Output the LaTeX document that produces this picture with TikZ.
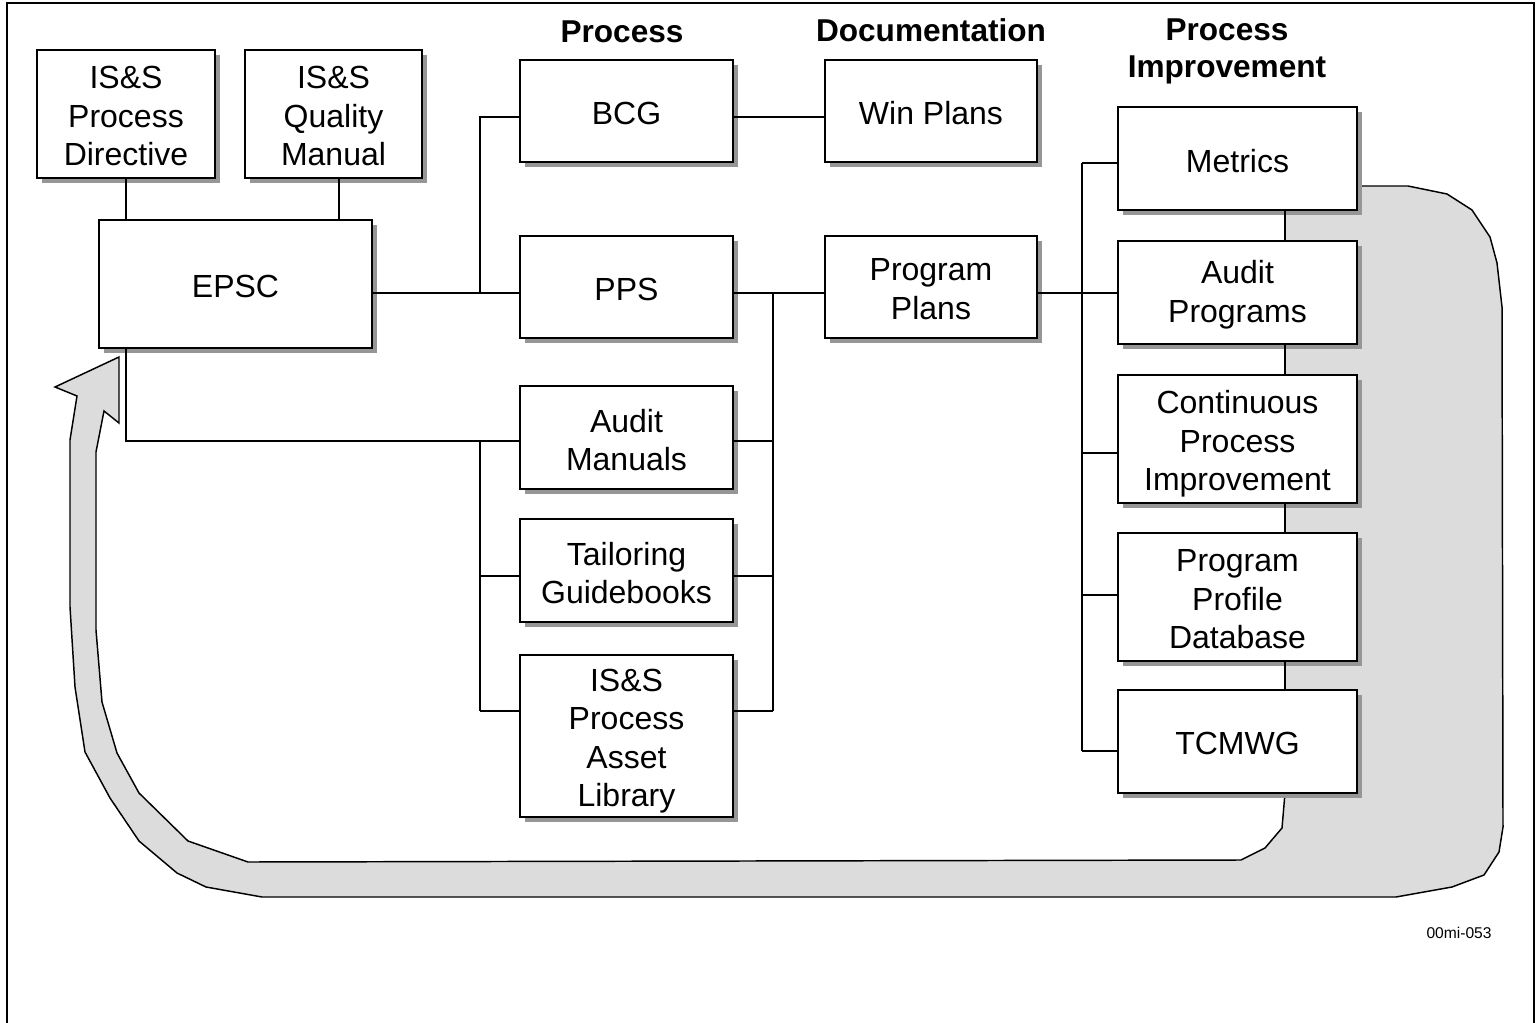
\documentclass[tikz,border=0pt]{standalone}
\usepackage{fontspec}
\setmainfont{Liberation Sans}
\usetikzlibrary{shadows}
\definecolor{bandgray}{HTML}{DCDCDC}
\definecolor{shadowgray}{HTML}{969696}
\newcommand{\boxfnt}{\fontsize{24pt}{28.9pt}\selectfont}
\newcommand{\headfnt}{\fontsize{23.7pt}{27.75pt}\selectfont\bfseries}
\begin{document}
\begin{tikzpicture}[x=0.75pt,y=-0.75pt,
  bx/.style 2 args={draw, line width=1.2pt, fill=white, inner sep=0pt,
    minimum width=#1*0.75pt, minimum height=#2*0.75pt,
    drop shadow={shadow xshift=3.9pt, shadow yshift=-3.9pt, fill=shadowgray, opacity=1}},
  lbl/.style={font=\boxfnt, align=center, inner sep=0pt, yshift=-1.8pt},
  txt/.style={label={[lbl]center:{#1}}},
  txtd/.style={label={[lbl,yshift=-2pt]center:{#1}}},
  conn/.style={line width=0.9pt},
  band/.style={draw, line width=1.1pt, fill=bandgray, line join=miter},
  head/.style={font=\headfnt, align=center, inner sep=0pt}]
\useasboundingbox (0,0) rectangle (1538,1023);
% frame
\draw[line width=1.5pt] (7,1023) -- (7,3) -- (1534,3) -- (1534,1023);

% feedback band
\draw[band] (1285,186) -- (1408,186) -- (1447,194) -- (1472,210) -- (1490,237) -- (1497,263)
  -- (1502,307) -- (1503,827) -- (1499,852) -- (1484,875) -- (1452,887) -- (1396,897)
  -- (262,897) -- (206,887) -- (177,873) -- (139,841) -- (110,798) -- (85,752) -- (75,687)
  -- (70,607) -- (70,440) -- (77,396) -- (55,387) -- (119,357) -- (119,423) -- (104,411)
  -- (96,452) -- (96,630) -- (102,702) -- (117,753) -- (139,793) -- (188,841) -- (248,862)
  -- (1241,860) -- (1265,848) -- (1282,828) -- (1285,793) -- cycle;

% headers
\node[head] (hproc) at (622,32) {Process};
\node[head] (hdoc) at (931,30) {Documentation};
\node[head] (himp) at (1227,51) {Process\\Improvement};

% coordinates for connectors
\coordinate (jA) at (480,293);
\coordinate (jB) at (480,117);
\coordinate (jC) at (480,441);
\coordinate (jD) at (480,576);
\coordinate (jE) at (480,711);
\coordinate (jF) at (773,293);
\coordinate (jG) at (773,441);
\coordinate (jH) at (773,576);
\coordinate (jI) at (773,711);
\coordinate (jK) at (126,441);
\coordinate (rA) at (1082,163);
\coordinate (rB) at (1082,293);
\coordinate (rC) at (1082,453);
\coordinate (rD) at (1082,595);
\coordinate (rE) at (1082,751);

% boxes
\node[bx={178}{128}, txt={IS\&S\\Process\\Directive}] (dir) at (126,114) {};
\node[bx={177}{128}, txt={IS\&S\\Quality\\Manual}] (qm) at (333.5,114) {};
\node[bx={273}{128}, txt={EPSC}] (epsc) at (235.5,284) {};
\node[bx={213}{102}, txt={BCG}] (bcg) at (626.5,111) {};
\node[bx={212}{102}, txt={Win Plans}] (win) at (931,111) {};
\node[bx={213}{102}, txt={PPS}] (pps) at (626.5,287) {};
\node[bx={212}{102}, txt={Program\\Plans}] (pp) at (931,287) {};
\node[bx={213}{103}, txt={Audit\\Manuals}] (am) at (626.5,437.5) {};
\node[bx={213}{103}, txt={Tailoring\\Guidebooks}] (tg) at (626.5,570.5) {};
\node[bx={213}{162}, txtd={IS\&S\\Process\\Asset\\Library}] (lib) at (626.5,736) {};
\node[bx={239}{103}, txt={Metrics}] (met) at (1237.5,158.5) {};
\node[bx={239}{103}, txt={Audit\\Programs}] (ap) at (1237.5,292.5) {};
\node[bx={239}{128}, txtd={Continuous\\Process\\Improvement}] (cpi) at (1237.5,439) {};
\node[bx={239}{128}, txt={Program\\Profile\\Database}] (ppd) at (1237.5,597) {};
\node[bx={239}{103}, txt={TCMWG}] (tc) at (1237.5,741.5) {};

% connectors
\begin{scope}[conn]
\draw (dir.south) -- (dir.south |- epsc.north);
\draw (qm.south -| 339,0) -- (epsc.north -| 339,0);
\draw (epsc.east |- jA) -- (pps.west |- jA);
\draw (jA) -- (jB) -- (bcg.west |- jB);
\draw (bcg.east |- jB) -- (win.west |- jB);
\draw (pps.east |- jF) -- (pp.west |- jF);
\draw (jF) -- (jI);
\draw (am.east |- jG) -- (jG);
\draw (tg.east |- jH) -- (jH);
\draw (lib.east |- jI) -- (jI);
\draw (epsc.south -| jK) -- (jK) -- (am.west |- jK);
\draw (jC) -- (jE);
\draw (jD) -- (tg.west |- jD);
\draw (jE) -- (lib.west |- jE);
\draw (pp.east |- rB) -- (ap.west |- rB);
\draw (rA) -- (rE);
\draw (rA) -- (met.west |- rA);
\draw (rC) -- (cpi.west |- rC);
\draw (rD) -- (ppd.west |- rD);
\draw (rE) -- (tc.west |- rE);
\draw (met.south -| 1285,0) -- (ap.north -| 1285,0);
\draw (ap.south -| 1285,0) -- (cpi.north -| 1285,0);
\draw (cpi.south -| 1285,0) -- (ppd.north -| 1285,0);
\draw (ppd.south -| 1285,0) -- (tc.north -| 1285,0);
\end{scope}

\node[font=\fontsize{11.7pt}{14pt}\selectfont, inner sep=0pt] (lbl) at (1459,933) {00mi-053};
\end{tikzpicture}
\end{document}
